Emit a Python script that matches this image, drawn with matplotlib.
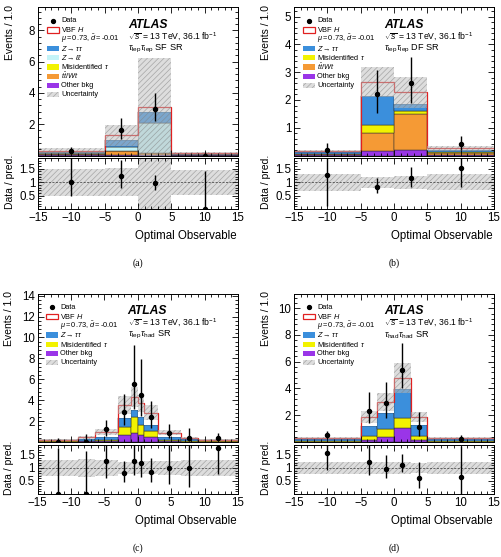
import numpy as np
import matplotlib
matplotlib.use("Agg")
import matplotlib.pyplot as plt
from matplotlib.patches import Rectangle
from matplotlib.lines import Line2D
from matplotlib.ticker import MultipleLocator

plt.rcParams['font.family'] = ['Liberation Sans', 'DejaVu Sans']
plt.rcParams['mathtext.fontset'] = 'custom'
plt.rcParams['mathtext.rm'] = 'Liberation Sans'
plt.rcParams['mathtext.it'] = 'Liberation Sans:italic'
plt.rcParams['mathtext.bf'] = 'Liberation Sans:bold'
plt.rcParams['hatch.linewidth'] = 0.5

W, H = 502, 557

# colours
c_ztt = "#3b8fdc"
c_zll = "#c4f4f8"
c_misid = "#f2f200"
c_top = "#f59a35"
c_other = "#9a35e8"
c_vbf = "#e02020"
unc_face = (0.74, 0.74, 0.74, 0.5)
unc_hatch = (0.5, 0.5, 0.5, 0.6)

# (a) tau_lep tau_lep SF SR
edges_a = [-15, -5, 0, 5, 15]
other_a = [0.02, 0.04, 0.05, 0.01]
top_a = [0.06, 0.24, 0.12, 0.03]
misid_a = [0.01, 0.02, 0.02, 0.01]
zll_a = [0.06, 0.27, 1.90, 0.02]
ztt_a = [0.10, 0.43, 0.70, 0.05]
vbf_a = [0.05, 0.30, 0.31, 0.03]
unc_a = [0.15, 0.68, 3.15, 0.07]
data_a = [0.30, 1.60, 3.00, 0.00]
dlo_a = [0.16, 0.56, 0.77, 0.00]
dhi_a = [0.27, 0.78, 0.98, 0.21]

# (b) tau_lep tau_lep DF SR
edges_b = [-15, -5, 0, 5, 15]
other_b = [0.03, 0.15, 0.20, 0.03]
top_b = [0.03, 0.65, 1.30, 0.06]
misid_b = [0.01, 0.30, 0.12, 0.02]
ztt_b = [0.06, 1.05, 0.23, 0.10]
vbf_b = [0.03, 0.50, 0.42, 0.05]
unc_b = [0.05, 0.55, 0.55, 0.08]
data_b = [0.20, 2.20, 2.60, 0.40]
dlo_b = [0.18, 0.66, 0.72, 0.19]
dhi_b = [0.26, 0.88, 0.94, 0.32]

# (c) tau_lep tau_had SR
edges_c = [-15, -9, -6.4, -3, -1, 0, 1, 3, 6.4, 9, 15]
other_c = [0.02, 0.05, 0.10, 0.65, 0.90, 0.65, 0.50, 0.08, 0.04, 0.02]
misid_c = [0.03, 0.08, 0.12, 0.75, 1.45, 1.00, 0.55, 0.10, 0.06, 0.03]
ztt_c = [0.10, 0.20, 0.30, 0.85, 0.75, 0.75, 0.60, 0.32, 0.18, 0.10]
vbf_c = [0.05, 0.12, 0.43, 1.30, 1.20, 1.30, 1.15, 0.40, 0.12, 0.05]
unc_c = [0.06, 0.15, 0.28, 0.85, 0.95, 0.80, 0.70, 0.25, 0.12, 0.06]
data_c = [0.00, 0.00, 1.20, 2.85, 5.50, 4.45, 2.40, 0.90, 0.40, 0.35]
dlo_c = [0.00, 0.00, 0.60, 1.25, 2.30, 2.00, 1.10, 0.55, 0.30, 0.20]
dhi_c = [0.35, 0.75, 0.90, 1.70, 3.80, 3.50, 1.50, 0.80, 0.90, 0.50]

# (d) tau_had tau_had SR
edges_d = [-15, -5, -2.5, 0, 2.5, 5, 15]
other_d = [0.03, 0.15, 0.40, 1.05, 0.15, 0.03]
misid_d = [0.03, 0.27, 0.60, 0.78, 0.27, 0.03]
ztt_d = [0.18, 0.78, 1.20, 2.15, 0.83, 0.16]
vbf_d = [0.09, 0.70, 0.80, 0.82, 0.60, 0.08]
unc_d = [0.08, 0.45, 0.70, 1.10, 0.38, 0.07]
data_d = [0.52, 2.32, 2.90, 5.40, 1.15, 0.20]
dlo_d = [0.22, 0.90, 1.10, 1.40, 0.70, 0.20]
dhi_d = [0.33, 1.40, 1.60, 2.00, 1.10, 0.35]

lab_ztt = r"$Z\rightarrow\tau\tau$"
lab_zll = r"$Z\rightarrow\ell\ell$"
lab_misid = r"Misidentified $\tau$"
lab_top = r"$t\bar{t}/Wt$"
lab_other = "Other bkg"


def px_rect(left, right, top, bottom):
    return [left / W, 1 - bottom / H, (right - left) / W, (bottom - top) / H]


def style_axis(a):
    a.set_xlim(-15, 15)
    a.xaxis.set_major_locator(MultipleLocator(5))
    a.xaxis.set_minor_locator(MultipleLocator(1))
    a.tick_params(which='both', direction='in', top=True, right=True, labelsize=8.3, pad=2)
    a.tick_params(which='major', length=4, width=0.6)
    a.tick_params(which='minor', length=2, width=0.6)
    for s in a.spines.values():
        s.set_linewidth(0.7)


def draw_legend(fig, left, top, rows):
    # rows drawn by hand so the spacing follows the reference
    for i, (kind, style, label) in enumerate(rows):
        yc = top + 13.7 + i * 9.25
        if kind == 'marker':
            fig.add_artist(Line2D([(left + 15) / W], [1 - yc / H], marker='o', color='black',
                                  linestyle='none', markersize=2.8))
        elif kind == 'box':
            fig.add_artist(Rectangle(((left + 9) / W, 1 - (yc + 2.7) / H), 12 / W, 5.4 / H,
                                     transform=fig.transFigure, **style))
        fig.text((left + 23) / W, 1 - yc / H, label, fontsize=5.3, va='center')


def draw_panel(fig, left, right, top, mid, bottom, edges, stack, vbf, unc, data, dlo, dhi,
               ymax, ystep, region, name):
    edges = np.array(edges, dtype=float)
    widths = np.diff(edges)
    centers = edges[:-1] + widths / 2
    vbf = np.array(vbf)
    unc = np.array(unc)
    data = np.array(data)
    dlo = np.array(dlo)
    dhi = np.array(dhi)

    ax = fig.add_axes(px_rect(left, right, top, mid))
    ax_r = fig.add_axes(px_rect(left, right, mid + 2.5, bottom))

    base = np.zeros(len(widths))
    for vals, col, lab in stack:
        vals = np.array(vals)
        ax.bar(edges[:-1], vals, width=widths, bottom=base, align='edge',
               color=col, edgecolor='#303030', linewidth=0.35)
        base = base + vals
    ax.bar(edges[:-1], vbf, width=widths, bottom=base, align='edge', color='white', linewidth=0)
    total = base + vbf
    ax.stairs(total, edges, color=c_vbf, linewidth=0.9, baseline=None)
    ax.bar(edges[:-1], 2 * unc, width=widths, bottom=total - unc, align='edge',
           facecolor=unc_face, edgecolor=unc_hatch, hatch='//////', linewidth=0)
    ax.errorbar(centers, data, yerr=[dlo, dhi], fmt='o', color='black',
                markersize=2.9, elinewidth=1.0, capsize=0, zorder=5)

    style_axis(ax)
    ax.set_ylim(0, ymax)
    ax.set_yticks(np.arange(ystep, ymax, ystep))
    ax.yaxis.set_minor_locator(MultipleLocator(ystep / 5))
    ax.tick_params(labelbottom=False)

    # ratio panel
    rel = unc / total
    ax_r.bar(edges[:-1], 2 * rel, width=widths, bottom=1 - rel, align='edge',
             facecolor=unc_face, edgecolor=unc_hatch, hatch='//////', linewidth=0)
    ax_r.axhline(1, color='#333333', linestyle=(0, (3, 2)), linewidth=0.5)
    ax_r.errorbar(centers, data / total, yerr=[dlo / total, dhi / total], fmt='o',
                  color='black', markersize=2.9, elinewidth=1.0, capsize=0, zorder=5)
    style_axis(ax_r)
    ax_r.set_ylim(0, 1.9)
    ax_r.set_yticks([0.5, 1, 1.5])
    ax_r.set_yticklabels(['0.5', '1', '1.5'])
    ax_r.yaxis.set_minor_locator(MultipleLocator(0.1))

    # legend
    rows = [('marker', None, "Data"),
            ('box', dict(facecolor='white', edgecolor=c_vbf, linewidth=0.9), r"VBF $H$"),
            ('none', None, r"$\mu = 0.73$, $\tilde{d} = $-0.01")]
    for vals, col, lab in reversed(stack):
        rows.append(('box', dict(facecolor=col, edgecolor='none'), lab))
    rows.append(('box', dict(facecolor=unc_face, edgecolor=unc_hatch, hatch='//////',
                             linewidth=0), "Uncertainty"))
    draw_legend(fig, left, top, rows)

    # labels
    tx = left + 0.45 * (right - left)
    fig.text(tx / W, 1 - (top + 18) / H, "ATLAS", fontsize=8.7, fontweight='bold',
             fontstyle='italic', va='center')
    fig.text(tx / W, 1 - (top + 29.5) / H, r"$\sqrt{s}$ = 13 TeV, 36.1 fb$^{-1}$",
             fontsize=6.2, va='center')
    fig.text(tx / W, 1 - (top + 41.5) / H, region, fontsize=6.6, va='center')

    fig.text((left - 28) / W, 1 - (top - 2) / H, "Events / 1.0", rotation=90,
             ha='center', va='top', fontsize=7.5)
    fig.text((left - 28) / W, 1 - ((mid + bottom) / 2) / H, "Data / pred.", rotation=90,
             ha='center', va='center', fontsize=7.5)
    fig.text((right - 1) / W, 1 - (bottom + 27) / H, "Optimal Observable",
             ha='right', va='center', fontsize=8.3)
    fig.text(((left + right) / 2) / W, 1 - (bottom + 54) / H, name,
             ha='center', va='center', fontsize=7, family='Liberation Serif')


fig = plt.figure(figsize=(W / 100, H / 100), dpi=100)

draw_panel(fig, 38, 238, 7, 155.5, 209, edges_a,
           [(other_a, c_other, lab_other), (top_a, c_top, lab_top), (misid_a, c_misid, lab_misid),
            (zll_a, c_zll, lab_zll), (ztt_a, c_ztt, lab_ztt)],
           vbf_a, unc_a, data_a, dlo_a, dhi_a, 9.5, 2,
           r"$\tau_{\rm lep}\tau_{\rm lep}$ SF SR", '(a)')

draw_panel(fig, 294, 494, 7, 155.5, 209, edges_b,
           [(other_b, c_other, lab_other), (top_b, c_top, lab_top), (misid_b, c_misid, lab_misid),
            (ztt_b, c_ztt, lab_ztt)],
           vbf_b, unc_b, data_b, dlo_b, dhi_b, 5.35, 1,
           r"$\tau_{\rm lep}\tau_{\rm lep}$ DF SR", '(b)')

draw_panel(fig, 37.5, 238, 293.5, 442, 494, edges_c,
           [(other_c, c_other, lab_other), (misid_c, c_misid, lab_misid), (ztt_c, c_ztt, lab_ztt)],
           vbf_c, unc_c, data_c, dlo_c, dhi_c, 14.2, 2,
           r"$\tau_{\rm lep}\tau_{\rm had}$ SR", '(c)')

draw_panel(fig, 294, 494, 293.5, 442, 494, edges_d,
           [(other_d, c_other, lab_other), (misid_d, c_misid, lab_misid), (ztt_d, c_ztt, lab_ztt)],
           vbf_d, unc_d, data_d, dlo_d, dhi_d, 11.1, 2,
           r"$\tau_{\rm had}\tau_{\rm had}$ SR", '(d)')

fig.savefig("out.png", dpi=100)
